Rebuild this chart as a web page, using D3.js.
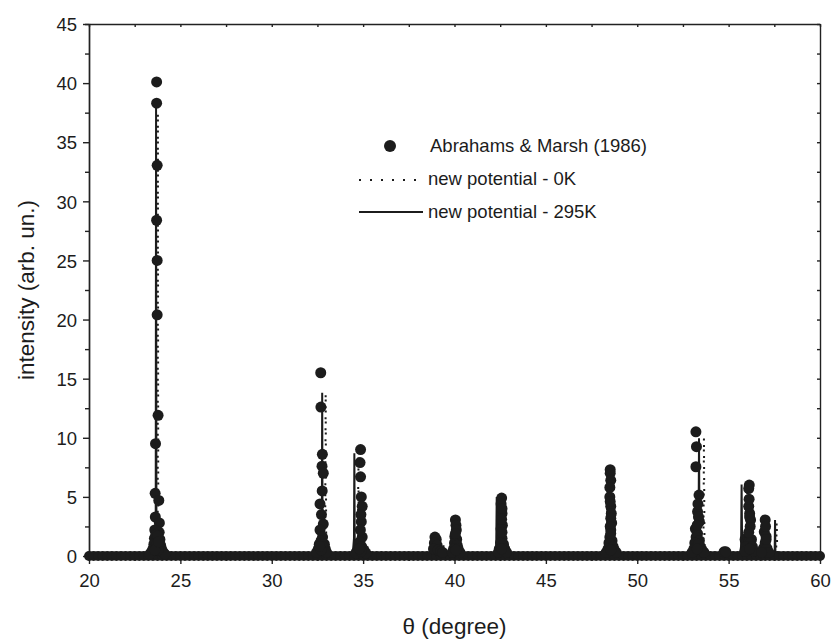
<html>
<head>
   <style>
   body { margin: 0; background: #fff; }
   .axis { font: 18.5px "Liberation Sans", Arial, sans-serif; }
   .axis path,
   .axis line {
     fill: none;
     stroke: #222;
     stroke-width: 1.4px;
   }
   .axis text { fill: #1c1c1c; }
   .title { font-family: "Liberation Sans", Arial, sans-serif; fill: #1c1c1c; }
   .legend text { font: 18.5px "Liberation Sans", Arial, sans-serif; fill: #1c1c1c; }
   </style>
   <meta charset="UTF-8">
   <script src="https://cdn.jsdelivr.net/npm/d3@7"></script>
</head>

<body>
<div class="chart"></div>
<script>

// tick values
var xMajor = [20, 25, 30, 35, 40, 45, 50, 55, 60];
var xMinor = [22.5, 27.5, 32.5, 37.5, 42.5, 47.5, 52.5, 57.5];
var yMajor = [0, 5, 10, 15, 20, 25, 30, 35, 40, 45];
var yMinor = [2.5, 7.5, 12.5, 17.5, 22.5, 27.5, 32.5, 37.5, 42.5];

var legendLabels = ["Abrahams & Marsh (1986)", "new potential - 0K", "new potential - 295K"];

// experimental scan: points sitting on the baseline (theta, intensity ~ 0)
var expBaseTheta = [20, 20.25, 20.5, 20.75, 21, 21.25, 21.5, 21.75, 22, 22.25, 22.5, 22.75,
  23, 23.25, 23.5, 23.75, 24, 24.25, 24.5, 24.75, 25, 25.25, 25.5, 25.75, 26, 26.25, 26.5, 26.75,
  27, 27.25, 27.5, 27.75, 28, 28.25, 28.5, 28.75, 29, 29.25, 29.5, 29.75, 30, 30.25, 30.5, 30.75,
  31, 31.25, 31.5, 31.75, 32, 32.25, 32.5, 32.75, 33, 33.25, 33.5, 33.75, 34, 34.25, 34.5, 34.75,
  35, 35.25, 35.5, 35.75, 36, 36.25, 36.5, 36.75, 37, 37.25, 37.5, 37.75, 38, 38.25, 38.5, 38.75,
  39, 39.25, 39.5, 39.75, 40, 40.25, 40.5, 40.75, 41, 41.25, 41.5, 41.75, 42, 42.25, 42.5, 42.75,
  43, 43.25, 43.5, 43.75, 44, 44.25, 44.5, 44.75, 45, 45.25, 45.5, 45.75, 46, 46.25, 46.5, 46.75,
  47, 47.25, 47.5, 47.75, 48, 48.25, 48.5, 48.75, 49, 49.25, 49.5, 49.75, 50, 50.25, 50.5, 50.75,
  51, 51.25, 51.5, 51.75, 52, 52.25, 52.5, 52.75, 53, 53.25, 53.5, 53.75, 54, 54.25, 54.5, 54.75,
  55, 55.25, 55.5, 55.75, 56, 56.25, 56.5, 56.75, 57, 57.25, 57.5, 57.75, 58, 58.25, 58.5, 58.75,
  59, 59.25, 59.5, 59.75, 60];

// experimental scan: points on the peaks [theta, intensity]
var expPeakPoints = [
  [23.70, 40.1], [23.70, 38.3], [23.73, 33.05], [23.70, 28.4], [23.73, 25.0], [23.73, 20.4],
  [23.78, 11.9], [23.64, 9.5], [23.62, 5.3], [23.82, 4.7], [23.63, 3.3], [23.85, 2.8],
  [23.60, 2.2], [23.84, 2.0], [23.58, 1.5], [23.88, 1.4], [23.55, 1.0], [23.92, 0.9],
  [23.50, 0.6], [23.97, 0.6], [23.42, 0.35], [24.05, 0.35], [23.33, 0.15], [24.15, 0.15],
  [23.66, 1.8], [23.75, 1.7], [23.70, 1.0], [23.68, 0.5], [23.78, 0.5], [23.60, 0.5], [23.80, 1.2],

  [32.68, 15.5], [32.69, 12.6], [32.77, 8.6], [32.75, 7.6], [32.82, 7.0], [32.76, 5.5],
  [32.64, 4.4], [32.82, 2.7], [32.64, 2.2], [32.78, 1.6], [32.70, 1.3], [32.60, 1.0],
  [32.88, 1.0], [32.55, 0.6], [32.93, 0.6], [32.45, 0.3], [33.00, 0.3],
  [32.72, 3.5], [32.78, 0.8], [32.70, 0.5], [32.62, 0.8],

  [34.86, 9.0], [34.83, 7.9], [34.86, 6.7], [34.90, 5.0], [34.95, 4.2], [34.90, 2.9],
  [34.95, 1.6], [34.82, 1.2], [34.92, 0.8], [34.70, 0.5], [35.05, 0.5], [34.60, 0.25], [35.15, 0.25],
  [34.88, 3.5], [34.85, 2.2], [34.88, 0.4], [34.80, 0.6],

  [38.93, 1.6], [39.00, 1.4], [38.90, 1.1], [39.05, 0.9], [38.85, 0.6], [39.10, 0.5],
  [39.25, 0.4], [39.35, 0.3],

  [40.05, 3.05], [40.08, 2.6], [40.10, 2.2], [40.02, 1.65], [40.12, 1.4], [40.00, 1.1],
  [40.15, 0.9], [39.95, 0.6], [40.20, 0.6], [39.88, 0.3], [40.30, 0.3],
  [40.05, 1.9], [40.08, 0.5],

  [42.58, 4.9], [42.55, 4.4], [42.60, 3.6], [42.62, 2.6], [42.55, 2.3], [42.60, 1.5],
  [42.52, 1.1], [42.68, 1.0], [42.45, 0.6], [42.75, 0.6], [42.40, 0.3], [42.85, 0.3],
  [42.60, 4.0], [42.58, 3.1], [42.60, 2.0], [42.58, 0.6],

  [48.52, 7.3], [48.52, 7.0], [48.50, 5.0], [48.55, 4.2], [48.58, 3.6], [48.60, 2.8],
  [48.55, 2.2], [48.50, 1.6], [48.62, 1.3], [48.45, 1.1], [48.68, 0.8], [48.40, 0.6],
  [48.75, 0.5], [48.30, 0.3], [48.85, 0.3],
  [48.55, 6.4], [48.50, 5.8], [48.52, 4.6], [48.55, 3.2], [48.52, 2.5], [48.55, 1.9], [48.55, 0.5],

  [53.21, 10.5], [53.24, 9.25], [53.21, 7.55], [53.38, 5.15], [53.30, 3.75], [53.40, 2.9],
  [53.18, 2.3], [53.30, 1.9], [53.22, 1.6], [53.40, 1.3], [53.15, 1.1], [53.45, 0.8],
  [53.10, 0.6], [53.55, 0.5], [53.00, 0.3], [53.65, 0.3],
  [53.32, 4.4], [53.35, 3.3], [53.28, 2.6], [53.35, 1.0], [53.28, 0.6],

  [54.75, 0.35], [54.85, 0.35],

  [56.13, 6.0], [56.10, 5.7], [56.10, 4.2], [56.15, 3.6], [56.20, 3.05], [56.18, 2.5],
  [55.90, 1.4], [56.05, 1.6], [56.25, 1.4], [56.00, 1.2], [56.10, 1.2], [56.20, 1.1],
  [55.95, 0.8], [56.30, 0.8], [55.90, 0.4], [56.40, 0.4],
  [56.12, 4.8], [56.15, 3.3], [56.10, 2.0], [56.15, 0.6],

  [57.00, 3.05], [56.95, 2.05], [57.05, 1.65], [57.00, 1.1], [56.90, 0.65], [57.10, 0.65],
  [57.20, 0.3], [56.80, 0.3], [57.02, 2.5], [57.05, 1.4]
];

// simulated profile, new potential at 0K [theta, intensity]
var line0K = [
  [20, 0], [23.65, 0], [23.72, 0.8], [23.76, 3], [23.77, 37.5], [23.79, 3], [23.83, 0.8], [23.90, 0],
  [32.85, 0], [32.92, 0.6], [32.95, 13.8], [32.98, 0.6], [33.05, 0],
  [34.65, 0], [34.71, 0.5], [34.74, 8.4], [34.77, 0.5], [34.85, 0],
  [39.30, 0], [39.37, 0.3], [39.39, 1.2], [39.41, 0.3], [39.50, 0],
  [40.05, 0], [40.12, 2.8], [40.20, 0],
  [42.45, 0], [42.53, 4.6], [42.60, 0],
  [48.55, 0], [48.63, 6.5], [48.70, 0],
  [53.55, 0], [53.62, 0.8], [53.65, 10.05], [53.68, 0.8], [53.75, 0],
  [55.95, 0], [56.02, 5.6], [56.10, 0],
  [57.55, 0], [57.60, 0.4], [57.63, 2.9], [57.66, 0.4], [57.72, 0],
  [60, 0]
];

// simulated profile, new potential at 295K [theta, intensity]
var line295K = [
  [20, 0], [23.50, 0], [23.60, 0.6], [23.65, 2], [23.67, 38.3], [23.69, 2], [23.74, 0.6], [23.85, 0],
  [32.60, 0], [32.70, 0.6], [32.74, 2], [32.76, 13.8], [32.78, 2], [32.82, 0.6], [32.90, 0],
  [34.35, 0], [34.45, 0.5], [34.50, 1.5], [34.52, 8.7], [34.54, 1.5], [34.60, 0.5], [34.70, 0],
  [38.80, 0], [38.90, 1.2], [39.00, 0],
  [39.95, 0], [40.05, 2.8], [40.15, 0],
  [42.20, 0], [42.28, 0.5], [42.31, 5.0], [42.34, 0.5], [42.40, 0],
  [48.25, 0], [48.35, 0.6], [48.38, 6.85], [48.41, 0.6], [48.50, 0],
  [53.25, 0], [53.35, 0.8], [53.38, 9.95], [53.41, 0.8], [53.50, 0],
  [55.60, 0], [55.68, 0.8], [55.71, 6.05], [55.74, 0.8], [55.85, 0],
  [57.45, 0], [57.52, 0.4], [57.54, 3.05], [57.56, 0.4], [57.65, 0],
  [60, 0]
];

var margin = {top: 24, right: 16, bottom: 87, left: 89},
    width = 836 - margin.left - margin.right,
    height = 643 - margin.top - margin.bottom;

var ink = "#1c1c1c";

var x = d3.scaleLinear().domain([20, 60]).range([0, width]);
var y = d3.scaleLinear().domain([0, 45]).range([height, 0]);

var svg = d3.select(".chart").append("svg")
    .attr("width", 836)
    .attr("height", 643)
  .append("g")
    .attr("transform", "translate(" + margin.left + "," + margin.top + ")");

// frame
svg.append("g").attr("class", "axis")
    .call(d3.axisTop(x).tickValues(xMajor.concat(xMinor)).tickSizeInner(-3).tickSizeOuter(0).tickFormat(""));
svg.append("g").attr("class", "axis")
    .attr("transform", "translate(" + width + ",0)")
    .call(d3.axisRight(y).tickValues(yMajor.concat(yMinor)).tickSizeInner(-3).tickSizeOuter(0).tickFormat(""));

// bottom axis
svg.append("g").attr("class", "axis")
    .attr("transform", "translate(0," + height + ")")
    .call(d3.axisBottom(x).tickValues(xMinor).tickSize(5).tickFormat(""));
svg.append("g").attr("class", "axis x")
    .attr("transform", "translate(0," + height + ")")
    .call(d3.axisBottom(x).tickValues(xMajor).tickSize(8).tickSizeOuter(0).tickPadding(10).tickFormat(d3.format("d")));

// left axis
svg.append("g").attr("class", "axis")
    .call(d3.axisLeft(y).tickValues(yMinor).tickSize(4).tickFormat(""));
svg.append("g").attr("class", "axis y")
    .call(d3.axisLeft(y).tickValues(yMajor).tickSize(6).tickSizeOuter(0).tickPadding(6).tickFormat(d3.format("d")));

svg.selectAll(".y .tick text").attr("dy", "0.36em");

// profiles
var line = d3.line()
    .x(function(d) { return x(d[0]); })
    .y(function(d) { return y(d[1]); });

svg.append("path")
    .datum(line0K)
    .attr("d", line)
    .attr("fill", "none")
    .attr("stroke", ink)
    .attr("stroke-width", 2)
    .attr("stroke-dasharray", "2,9");

svg.append("path")
    .datum(line295K)
    .attr("d", line)
    .attr("fill", "none")
    .attr("stroke", ink)
    .attr("stroke-width", 2);

// experimental points
svg.selectAll("circle.base")
    .data(expBaseTheta)
  .enter().append("circle")
    .attr("class", "base")
    .attr("cx", function(d) { return x(d); })
    .attr("cy", y(0))
    .attr("r", 5)
    .style("fill", ink);

svg.selectAll("circle.peak")
    .data(expPeakPoints)
  .enter().append("circle")
    .attr("class", "peak")
    .attr("cx", function(d) { return x(d[0]); })
    .attr("cy", function(d) { return y(d[1]); })
    .attr("r", 5.5)
    .style("fill", ink);

// legend
var legend = svg.append("g").attr("class", "legend")
    .attr("transform", "translate(" + (359 - margin.left) + "," + (146 - margin.top) + ")");

legend.append("circle").attr("cx", 31).attr("cy", 0).attr("r", 6).style("fill", ink);
legend.append("line").attr("x1", 0).attr("x2", 64).attr("y1", 34).attr("y2", 34)
    .attr("stroke", ink).attr("stroke-width", 2).attr("stroke-dasharray", "2,9");
legend.append("line").attr("x1", 0).attr("x2", 64).attr("y1", 66).attr("y2", 66)
    .attr("stroke", ink).attr("stroke-width", 2);

legend.selectAll("text")
    .data(legendLabels)
  .enter().append("text")
    .attr("x", function(d, i) { return i == 0 ? 71 : 69; })
    .attr("y", function(d, i) { return i * 33; })
    .attr("dy", "0.35em")
    .text(function(d) { return d; });

// axis titles
svg.append("text")
    .attr("class", "title")
    .attr("x", width / 2)
    .attr("y", height + 78)
    .style("font-size", "22.5px")
    .style("text-anchor", "middle")
    .text("θ (degree)");

svg.append("text")
    .attr("class", "title")
    .attr("transform", "rotate(-90)")
    .attr("x", -(290 - margin.top))
    .attr("y", -55)
    .style("font-size", "22.5px")
    .style("text-anchor", "middle")
    .text("intensity (arb. un.)");

</script>
</body>
</html>
